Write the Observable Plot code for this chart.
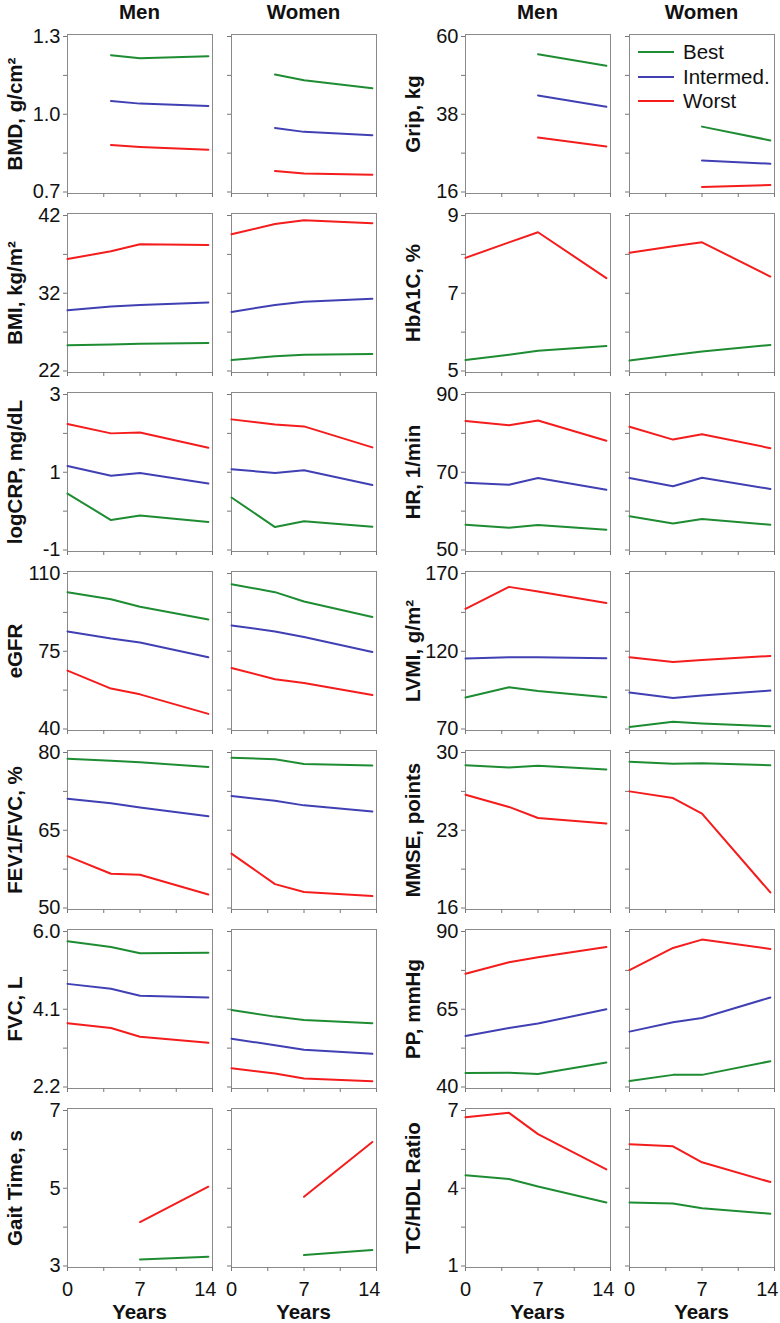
<!DOCTYPE html>
<html>
<head>
<meta charset="utf-8">
<script src="https://cdn.jsdelivr.net/npm/d3@7"></script>
<script src="https://cdn.jsdelivr.net/npm/@observablehq/plot@0.6"></script>
<style>
  body { margin: 0; background: #fff; }
  #wrap { position: relative; width: 780px; height: 1323px; overflow: hidden; font-family: "Liberation Sans", Arial, Helvetica, sans-serif; color: #111; }
  .abs { position: absolute; }
  .hdr { font-weight: bold; font-size: 20.5px; line-height: 23px; height: 23px; text-align: center; width: 120px; }
  .leg { font-size: 20.5px; line-height: 24px; height: 24px; }
  .leg span.ln { position: absolute; left: 0; top: 11px; width: 36px; height: 2px; }
  .leg span.tx { position: absolute; left: 45px; top: 0; white-space: nowrap; }
</style>
</head>
<body>
<div id="wrap"></div>
<script>
// ---------- data ----------
const years = [0, 4.2, 7, 13.6];
const groups = ["Best", "Intermed.", "Worst"];
const colors = ["#1e8c32", "#4040b4", "#f41c1c"];
const sexes = ["Men", "Women"];

const leftTitles = ["BMD, g/cm²", "BMI, kg/m²", "logCRP, mg/dL", "eGFR", "FEV1/FVC, %", "FVC, L", "Gait Time, s"];
const leftTickLabels = [["0.7","1.0","1.3"], ["22","32","42"], ["-1","1","3"], ["40","75","110"], ["50","65","80"], ["2.2","4.1","6.0"], ["3","5","7"]];
const rightTitles = ["Grip, kg", "HbA1C, %", "HR, 1/min", "LVMI, g/m²", "MMSE, points", "PP, mmHg", "TC/HDL Ratio"];
const rightTickLabels = [["16","38","60"], ["5","7","9"], ["50","70","90"], ["70","120","170"], ["16","23","30"], ["40","65","90"], ["1","4","7"]];

// values at years [0, 4.2, 7, 13.6]: [Best, Intermed., Worst]
const bmdMen     = [[null,1.228,1.216,1.224],[null,1.051,1.041,1.032],[null,0.881,0.874,0.863]];
const bmdWomen   = [[null,1.153,1.131,1.100],[null,0.947,0.932,0.919],[null,0.781,0.771,0.767]];
const gripMen    = [[null,null,55.0,51.7],[null,null,43.3,40.1],[null,null,31.4,28.9]];
const gripWomen  = [[null,null,34.5,30.6],[null,null,24.9,24.0],[null,null,17.4,18.0]];
const bmiMen     = [[25.3,25.4,25.5,25.6],[29.8,30.3,30.5,30.8],[36.4,37.4,38.3,38.2]];
const bmiWomen   = [[23.4,23.9,24.1,24.2],[29.6,30.5,30.9,31.3],[39.6,40.9,41.4,41.0]];
const hbaMen     = [[5.28,5.42,5.52,5.64],[],[7.91,8.31,8.57,7.39]];
const hbaWomen   = [[5.27,5.41,5.50,5.67],[],[8.04,8.21,8.31,7.43]];
const crpMen     = [[0.45,-0.23,-0.11,-0.28],[1.16,0.91,0.98,0.71],[2.24,2.00,2.02,1.63]];
const crpWomen   = [[0.35,-0.41,-0.26,-0.40],[1.08,0.98,1.05,0.67],[2.36,2.23,2.18,1.64]];
const hrMen      = [[56.5,55.7,56.4,55.2],[67.3,66.8,68.5,65.5],[83.2,82.1,83.3,78.1]];
const hrWomen    = [[58.7,56.8,58.0,56.5],[68.5,66.4,68.6,65.7],[81.7,78.4,79.8,76.2]];
const egfrMen    = [[101.6,98.4,95.0,89.3],[83.9,80.7,78.9,72.3],[66.3,58.2,55.6,46.8]];
const egfrWomen  = [[105.2,101.6,97.4,90.4],[86.6,83.9,81.4,74.7],[67.5,62.4,60.7,55.3]];
const lvmiMen    = [[90.2,96.8,94.5,90.4],[115.3,116.2,116.2,115.5],[147.3,161.4,158.4,151.1]];
const lvmiWomen  = [[71.3,74.7,73.6,71.7],[93.4,90.0,91.5,94.7],[116.2,113.1,114.4,117.0]];
const fevMen     = [[78.8,78.4,78.1,77.2],[71.1,70.2,69.4,67.7],[60.0,56.6,56.4,52.6]];
const fevWomen   = [[79.0,78.7,77.8,77.5],[71.6,70.7,69.8,68.6],[60.5,54.6,53.1,52.3]];
const mmseMen    = [[28.86,28.65,28.80,28.47],[],[26.2,25.1,24.1,23.6]];
const mmseWomen  = [[29.16,28.98,29.04,28.86],[],[26.5,25.9,24.5,17.4]];
const fvcMen     = [[5.76,5.62,5.47,5.48],[4.72,4.60,4.43,4.39],[3.76,3.64,3.43,3.28]];
const fvcWomen   = [[4.08,3.92,3.84,3.76],[3.38,3.22,3.11,3.01],[2.66,2.53,2.41,2.34]];
const ppMen      = [[44.5,44.6,44.2,47.9],[56.4,59.0,60.4,65.0],[76.4,80.1,81.7,85.0]];
const ppWomen    = [[41.9,43.9,43.9,48.3],[57.8,60.8,62.2,68.8],[77.6,84.7,87.4,84.4]];
const gaitMen    = [[null,null,3.17,3.24],[],[null,null,4.13,5.04]];
const gaitWomen  = [[null,null,3.28,3.41],[],[null,null,4.78,6.19]];
const tchdlMen   = [[4.50,4.36,4.07,3.45],[],[6.74,6.91,6.09,4.73]];
const tchdlWomen = [[3.45,3.41,3.23,3.02],[],[5.70,5.62,5.00,4.24]];

const leftData  = [[bmdMen,bmdWomen],[bmiMen,bmiWomen],[crpMen,crpWomen],[egfrMen,egfrWomen],[fevMen,fevWomen],[fvcMen,fvcWomen],[gaitMen,gaitWomen]];
const rightData = [[gripMen,gripWomen],[hbaMen,hbaWomen],[hrMen,hrWomen],[lvmiMen,lvmiWomen],[mmseMen,mmseWomen],[ppMen,ppWomen],[tchdlMen,tchdlWomen]];

// ---------- layout ----------
const wrap = document.getElementById("wrap");
const FONT = '"Liberation Sans", Arial, Helvetica, sans-serif';
const frameLefts = [67, 231, 465, 629];
const FW = 145, FH = 159, ROW0 = 34, PITCH = 179;
const nRows = 7;

function toRows(series) {
  const out = [];
  series.forEach((vals, gi) => {
    vals.forEach((v, i) => { if (v != null) out.push({t: years[i], v, g: groups[gi]}); });
  });
  return out;
}

function panel({series, labels, title, showYLabels, bottom}) {
  const lo = +labels[0], hi = +labels[2];
  const ticks = d3.range(5).map(k => lo + (hi - lo) * k / 4);
  const labelMap = new Map([[ticks[0], labels[0]], [ticks[2], labels[1]], [ticks[4], labels[2]]]);
  const mL = showYLabels ? 67 : 10, mR = 14, mT = 4, mB = bottom ? 34 : 6;
  const marks = [
    Plot.frame({stroke: "#8a8a8a", strokeWidth: 1}),
    Plot.axisY(ticks, {tickSize: 4, tickPadding: 3, stroke: "#777", fill: "#111", fontSize: 20,
      tickFormat: d => showYLabels ? (labelMap.get(d) ?? "") : "", label: null}),
    Plot.axisX([0, 3.5, 7, 10.5, 14], {tickSize: 4, stroke: "#777", tickFormat: () => "", label: null}),
    Plot.line(toRows(series), {x: "t", y: "v", stroke: "g", z: "g", strokeWidth: 2})
  ];
  if (bottom) {
    marks.push(Plot.axisX([0, 7], {tickSize: 0, tickPadding: 14, fill: "#111", fontSize: 20, label: null}));
    marks.push(Plot.axisX([14], {tickSize: 0, tickPadding: 14, fill: "#111", fontSize: 20, textAnchor: "end", dx: 4, label: null}));
  }
  if (title) {
    marks.push(Plot.text([title], {frameAnchor: "left", rotate: -90, dx: -46, textAnchor: "middle",
      lineAnchor: "bottom", fontWeight: "bold", fontSize: 20.5, fill: "#111"}));
  }
  const svg = Plot.plot({
    width: mL + FW + mR, height: mT + FH + mB,
    marginLeft: mL, marginRight: mR, marginTop: mT, marginBottom: mB,
    style: {fontFamily: FONT, fontSize: "20px", color: "#111", background: "transparent", overflow: "visible"},
    x: {domain: [0, 14]},
    y: {domain: [lo, hi], insetTop: 2, insetBottom: 1.5},
    color: {domain: groups, range: colors},
    marks
  });
  return {svg, mL, mT};
}

for (let r = 0; r < nRows; r++) {
  const top = ROW0 + PITCH * r;
  for (let c = 0; c < 4; c++) {
    const isLeft = c < 2;
    const sexIdx = c % 2;
    const series = (isLeft ? leftData : rightData)[r][sexIdx];
    const labels = (isLeft ? leftTickLabels : rightTickLabels)[r];
    const title = sexIdx === 0 ? (isLeft ? leftTitles : rightTitles)[r] : null;
    const {svg, mL, mT} = panel({series, labels, title, showYLabels: sexIdx === 0, bottom: r === nRows - 1});
    svg.classList.add("abs");
    svg.style.left = (frameLefts[c] - mL) + "px";
    svg.style.top = (top - mT) + "px";
    wrap.appendChild(svg);
  }
}

// column headers and x titles
for (let c = 0; c < 4; c++) {
  const cx = frameLefts[c] + FW / 2;
  const h = document.createElement("div");
  h.className = "abs hdr";
  h.textContent = sexes[c % 2];
  h.style.left = (cx - 60) + "px";
  h.style.top = "0px";
  wrap.appendChild(h);
  const y = document.createElement("div");
  y.className = "abs hdr";
  y.textContent = "Years";
  y.style.left = (cx - 60) + "px";
  y.style.top = "1300px";
  wrap.appendChild(y);
}

// legend (in the top-right panel)
groups.forEach((g, i) => {
  const d = document.createElement("div");
  d.className = "abs leg";
  d.style.left = "638px";
  d.style.top = (40 + i * 24.5) + "px";
  d.innerHTML = `<span class="ln" style="background:${colors[i]}"></span><span class="tx">${g}</span>`;
  wrap.appendChild(d);
});
</script>
</body>
</html>
